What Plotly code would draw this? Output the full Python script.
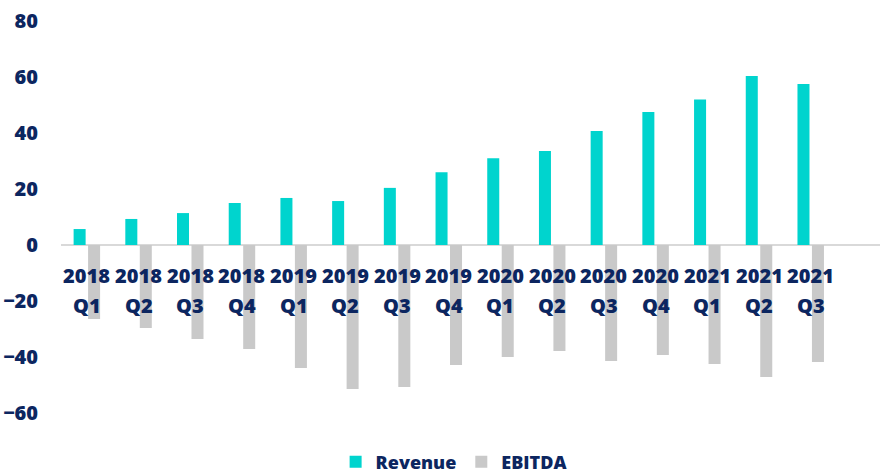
import plotly.graph_objects as go

years = ["2018", "2018", "2018", "2018", "2019", "2019", "2019", "2019",
         "2020", "2020", "2020", "2020", "2021", "2021", "2021"]
quarters = ["Q1", "Q2", "Q3", "Q4", "Q1", "Q2", "Q3", "Q4",
            "Q1", "Q2", "Q3", "Q4", "Q1", "Q2", "Q3"]
revenue = [5.7, 9.3, 11.4, 15.0, 16.8, 15.7, 20.4, 26.0,
           31.0, 33.6, 40.7, 47.5, 52.0, 60.4, 57.5]
ebitda = [-26.4, -29.6, -33.6, -37.1, -43.9, -51.4, -50.7, -42.9,
          -40.0, -37.9, -41.4, -39.3, -42.5, -47.1, -41.8]
y_ticks = [-60, -40, -20, 0, 20, 40, 60, 80]

NAVY = "#0C2660"
TEAL = "#00D4CE"
GRAY = "#C9C9C9"
FONT = "Open Sans"

cats = list(range(len(years)))

fig = go.Figure()
fig.add_trace(go.Bar(x=cats, y=revenue, name="Revenue", marker_color=TEAL,
                     marker_line_width=0))
fig.add_trace(go.Bar(x=cats, y=ebitda, name="EBITDA", marker_color=GRAY,
                     marker_line_width=0))

for i, (yr, q) in enumerate(zip(years, quarters)):
    fig.add_annotation(x=i, y=0, text=yr, showarrow=False, yanchor="middle",
                       xanchor="center", yshift=-30,
                       font=dict(family=FONT, size=20, color=NAVY, weight=800))
    fig.add_annotation(x=i, y=0, text=q, showarrow=False, yanchor="middle",
                       xanchor="center", yshift=-60,
                       font=dict(family=FONT, size=20, color=NAVY, weight=800))

fig.update_layout(
    width=881, height=475,
    margin=dict(l=61, r=1, t=21, b=62, autoexpand=False),
    paper_bgcolor="white", plot_bgcolor="white",
    barmode="group", bargap=0.44, bargroupgap=0.17,
    showlegend=True,
    legend=dict(orientation="h", x=0.48, xanchor="center", y=-0.125,
                yanchor="middle",
                font=dict(family=FONT, size=18, color=NAVY, weight=800),
                itemwidth=30, tracegroupgap=0),
    xaxis=dict(range=[-0.5, 15.34], showticklabels=False, showgrid=False,
               zeroline=False, showline=False, ticks="", automargin=False),
    yaxis=dict(range=[-60, 80], tickvals=y_ticks, showgrid=False,
               zeroline=True, zerolinecolor="#D9D9D9", zerolinewidth=2,
               showline=False, ticks="", ticklabelstandoff=22, automargin=False,
               tickfont=dict(family=FONT, size=20, color=NAVY, weight=800)),
)

# remove the browser's default 8px body margin so the figure fills the window
fig.write_html("out.html",
               config={"displayModeBar": False},
               post_script="document.body.style.margin='0px';"
                           "document.body.style.overflow='hidden';")
